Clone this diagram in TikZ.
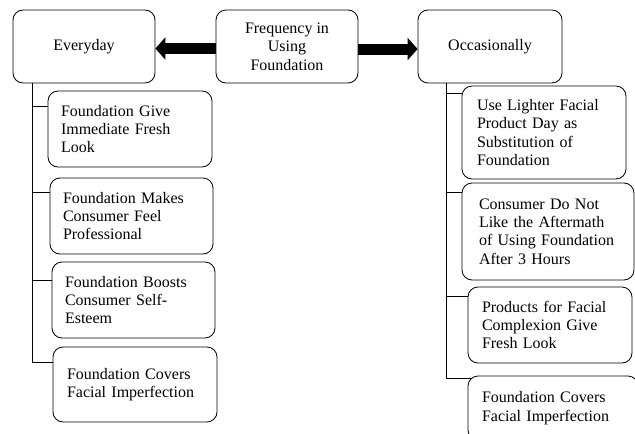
\documentclass[tikz,border=0pt]{standalone}
\usepackage{fontspec}
\setmainfont{Liberation Serif}
\usetikzlibrary{arrows.meta}
\tikzset{
  box/.style={draw, rounded corners=10pt, line width=0.8pt, inner xsep=13pt, inner ysep=0pt, align=left, font=\fontsize{16}{18.3}\selectfont},
  topbox/.style={draw, rounded corners=10pt, line width=0.8pt, inner sep=0pt, align=center, minimum height=73pt, font=\fontsize{16}{18.3}\selectfont},
  link/.style={line width=0.8pt},
  bigarrow/.style={line width=11pt, -{Triangle[length=10pt,width=22pt]}}
}
\begin{document}
\begin{tikzpicture}[x=1pt,y=-1pt]
\clip (0,0) rectangle (635,434);
\fill[white] (0,0) rectangle (635,434);
% top row
\node[topbox, minimum width=142pt] (ev) at (84,46.5) {Everyday};
\node[topbox, minimum width=142pt] (fr) at (287,46.5) {Frequency in\\Using\\Foundation};
\node[topbox, minimum width=144pt] (oc) at (490,46.5) {Occasionally};
% arrows
\draw[bigarrow] ([yshift=-2pt]fr.west) -- ([yshift=-2pt]ev.east);
\draw[bigarrow] ([yshift=-2.5pt]fr.east) -- ([yshift=-2.5pt]oc.west);
% left column
\node[box, text width=138pt, minimum height=76pt] (e1) at (130,129) {Foundation Give\\Immediate Fresh\\Look};
\node[box, text width=137pt, minimum height=76pt] (e2) at (131.5,216) {Foundation Makes\\Consumer Feel\\Professional};
\node[box, text width=137pt, minimum height=76pt] (e3) at (133.5,300) {Foundation Boosts\\Consumer Self-\\Esteem};
\node[box, text width=136pt, inner xsep=14pt, minimum height=75pt] (e4) at (135,384.5) {Foundation Covers\\Facial Imperfection};
% right column
\node[box, text width=134pt, inner xsep=15pt, minimum height=93pt] (r1) at (544,132.5) {Use Lighter Facial\\Product Day as\\Substitution of\\Foundation};
\node[box, text width=138pt, inner xsep=17pt, minimum height=97pt] (r2) at (548,231.5) {Consumer Do Not\\Like the Aftermath\\of Using Foundation\\After 3 Hours};
\node[box, text width=136pt, inner xsep=14pt, minimum height=76pt] (r3) at (550,325) {Products for Facial\\Complexion Give\\Fresh Look};
\node[box, text width=142pt, inner xsep=14pt, minimum height=64pt] (r4) at (553,408) {Foundation Covers\\Facial Imperfection};
% trunks
\coordinate (lt) at ([xshift=20pt]ev.south west);
\coordinate (rt) at ([xshift=29pt]oc.south west);
\draw[link] (lt) |- ([yshift=-16pt]e1.north west);
\draw[link] (lt) |- ([yshift=-15pt]e2.north west);
\draw[link] (lt) |- ([yshift=-19pt]e3.north west);
\draw[link] (lt) |- ([yshift=-16pt]e4.north west);
\draw[link] (rt) |- ([yshift=-8pt]r1.north west);
\draw[link] (rt) |- ([yshift=-10pt]r2.north west);
\draw[link] (rt) |- ([yshift=-10pt]r3.north west);
\draw[link] (rt) |- ([xshift=3pt,yshift=-3pt]r4.north west);
\end{tikzpicture}
\end{document}
